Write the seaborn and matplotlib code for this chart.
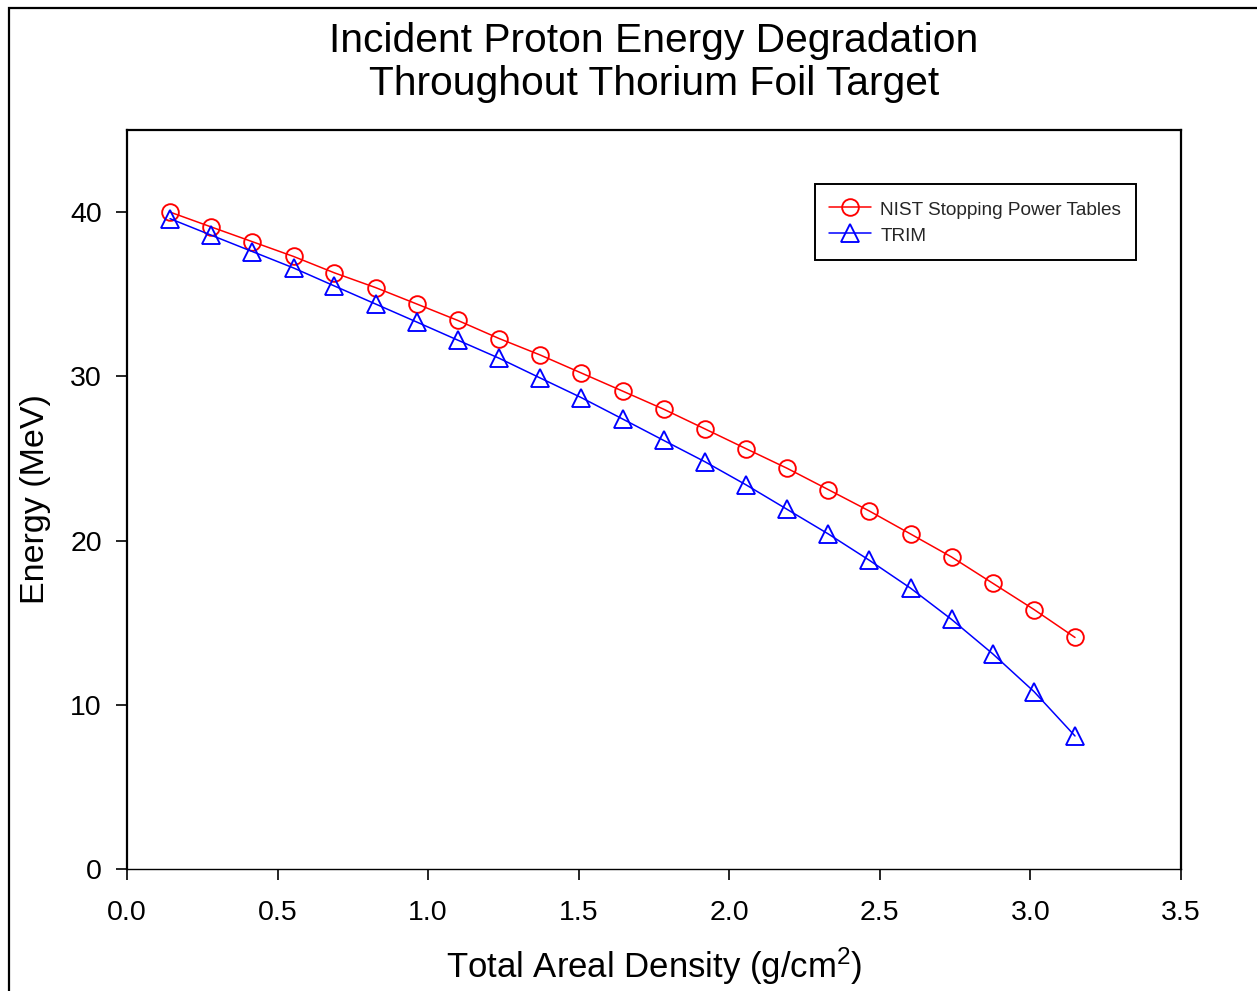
import numpy as np
import pandas as pd
import matplotlib
matplotlib.use("Agg")
import matplotlib.pyplot as plt
from matplotlib.patches import Rectangle
import seaborn as sns

# areal density (g/cm^2) at each foil
areal_density = [0.143, 0.279, 0.416, 0.553, 0.689, 0.826, 0.963, 1.099, 1.236,
                 1.372, 1.509, 1.646, 1.782, 1.919, 2.055, 2.192, 2.329, 2.465,
                 2.602, 2.738, 2.875, 3.012, 3.148]
# proton energy (MeV)
nist_energy = [40.0, 39.1, 38.2, 37.3, 36.3, 35.4, 34.4, 33.4, 32.3, 31.3, 30.2,
               29.1, 28.0, 26.8, 25.6, 24.4, 23.1, 21.8, 20.4, 19.0, 17.4, 15.8, 14.1]
trim_energy = [39.6, 38.6, 37.6, 36.6, 35.5, 34.4, 33.3, 32.2, 31.1, 29.9, 28.7,
               27.4, 26.1, 24.8, 23.4, 21.9, 20.4, 18.8, 17.1, 15.2, 13.1, 10.8, 8.1]

df = pd.DataFrame({"x": areal_density, "nist": nist_energy, "trim": trim_energy})

sns.set_theme(style="ticks")
plt.rcParams["font.family"] = ["Liberation Sans", "DejaVu Sans"]
plt.rcParams["mathtext.default"] = "regular"

fig = plt.figure(figsize=(12.57, 9.91), dpi=100)
ax = fig.add_axes([127 / 1257, (991 - 869) / 991, 1054 / 1257, 739 / 991])

# outer frame (only left/top visible in the original)
fig.patches.append(Rectangle((9 / 1257, -0.1), 1.2, 1.1 - 8 / 991, transform=fig.transFigure,
                             fill=False, edgecolor="black", linewidth=1.6, clip_on=False))

sns.lineplot(data=df, x="x", y="nist", ax=ax, color="red", marker="o", markersize=12,
             markerfacecolor="none", markeredgecolor="red", markeredgewidth=1.35,
             linewidth=1.1, label="NIST Stopping Power Tables")
sns.lineplot(data=df, x="x", y="trim", ax=ax, color="blue", marker="^", markersize=13,
             markerfacecolor="none", markeredgecolor="blue", markeredgewidth=1.35,
             linewidth=1.1, label="TRIM")

ax.set_xlim(0, 3.5)
ax.set_ylim(0, 45)
ax.set_xticks(np.arange(0, 3.51, 0.5))
ax.set_xticklabels([f"{v:.1f}" for v in np.arange(0, 3.51, 0.5)])
ax.set_yticks([0, 10, 20, 30, 40])
ax.tick_params(axis="both", direction="out", length=8, width=1.2, labelsize=20.5,
               color="black", labelcolor="black")
ax.tick_params(axis="y", pad=10)
ax.tick_params(axis="x", pad=14.5)

for side, sp in ax.spines.items():
    sp.set_visible(True)
    sp.set_color("black")
    sp.set_linewidth(1.0 if side == "bottom" else 1.6)

ax.set_xlabel("Total Areal Density (g/cm$^{2}$)", fontsize=25, labelpad=14, color="black")
ax.set_ylabel("Energy (MeV)", fontsize=24.5, labelpad=14, color="black")
ax.set_title("Incident Proton Energy Degradation\nThroughout Thorium Foil Target",
             fontsize=29.3, pad=25, linespacing=1.18, color="black")

leg = ax.legend(loc="upper right", bbox_to_anchor=(0.957, 0.927), borderaxespad=0,
                fontsize=13.7, frameon=True, fancybox=False, edgecolor="black",
                framealpha=1, handlelength=2.2, handleheight=1.32, handletextpad=0.5,
                borderpad=0.76, labelspacing=0.26)
leg.get_frame().set_linewidth(1.4)

fig.savefig("out.png", dpi=100)
